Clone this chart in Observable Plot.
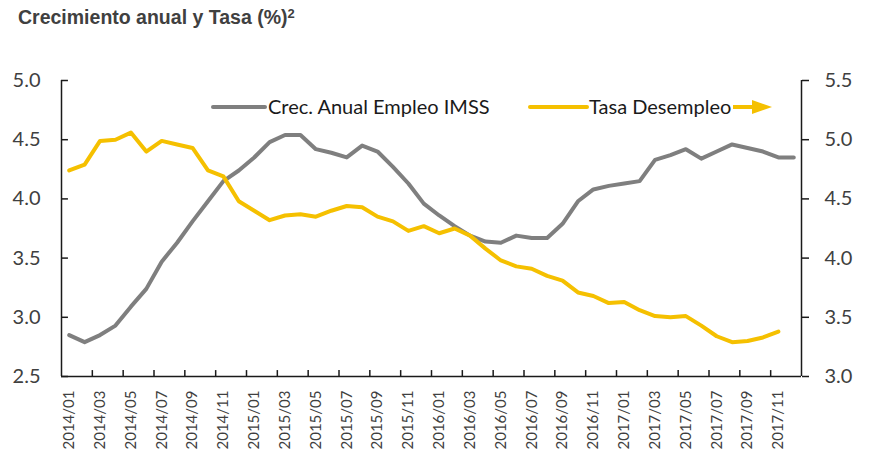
<!DOCTYPE html>
<html>
<head>
<meta charset="utf-8">
<script src="https://cdn.jsdelivr.net/npm/d3@7"></script>
<script src="https://cdn.jsdelivr.net/npm/@observablehq/plot@0.6"></script>
<style>
  body { margin: 0; background: #fff; }
  #wrap { position: relative; width: 871px; height: 451px; overflow: hidden; }
  #title { height: 40px; box-sizing: border-box; padding: 6px 0 0 18px; line-height: 20px;
           font: bold 19.5px "Liberation Sans", Arial, sans-serif; color: #404040; }
  #title sup { font-size: 13px; vertical-align: 6px; line-height: 0; }
  #legend { position: absolute; left: 0; top: 0; pointer-events: none; }
</style>
</head>
<body>
<div id="wrap">
  <div id="title">Crecimiento anual y Tasa (%)<sup>2</sup></div>
  <div id="chart"></div>
  <svg id="legend" width="871" height="451"></svg>
</div>
<script>
const months = [
  "2014/01","2014/02","2014/03","2014/04","2014/05","2014/06","2014/07","2014/08","2014/09","2014/10","2014/11","2014/12",
  "2015/01","2015/02","2015/03","2015/04","2015/05","2015/06","2015/07","2015/08","2015/09","2015/10","2015/11","2015/12",
  "2016/01","2016/02","2016/03","2016/04","2016/05","2016/06","2016/07","2016/08","2016/09","2016/10","2016/11","2016/12",
  "2017/01","2017/02","2017/03","2017/04","2017/05","2017/06","2017/07","2017/08","2017/09","2017/10","2017/11","2017/12"
];
// Crec. Anual Empleo IMSS (left axis)
const empleoIMSS = [
  2.85, 2.79, 2.85, 2.93, 3.09, 3.24, 3.47, 3.63, 3.81, 3.98, 4.15, 4.24,
  4.35, 4.48, 4.54, 4.54, 4.42, 4.39, 4.35, 4.45, 4.40, 4.27, 4.13, 3.96,
  3.86, 3.77, 3.69, 3.64, 3.63, 3.69, 3.67, 3.67, 3.79, 3.98, 4.08, 4.11,
  4.13, 4.15, 4.33, 4.37, 4.42, 4.34, 4.40, 4.46, 4.43, 4.40, 4.35, 4.35
];
// Tasa Desempleo (right axis)
const tasaDesempleo = [
  4.74, 4.79, 4.99, 5.00, 5.06, 4.90, 4.99, 4.96, 4.93, 4.74, 4.69, 4.48,
  4.40, 4.32, 4.36, 4.37, 4.35, 4.40, 4.44, 4.43, 4.35, 4.31, 4.23, 4.27,
  4.21, 4.25, 4.19, 4.08, 3.98, 3.93, 3.91, 3.85, 3.81, 3.71, 3.68, 3.62,
  3.63, 3.56, 3.51, 3.50, 3.51, 3.43, 3.34, 3.29, 3.30, 3.33, 3.38
];
const leftTicks = [2.5, 3.0, 3.5, 4.0, 4.5, 5.0];
const rightTicks = [3.0, 3.5, 4.0, 4.5, 5.0, 5.5];
const rightOffset = 0.5; // right axis = left axis + 0.5

const gray = "#7f7f7f", yellow = "#f5c000", axisColor = "#1a1a1a", labelColor = "#404040";

const empleoData = empleoIMSS.map((v, i) => ({x: i + 0.5, y: v}));
const tasaData = tasaDesempleo.map((v, i) => ({x: i + 0.5, y: v - rightOffset}));
const labelPos = months.map((m, i) => i).filter(i => i % 2 === 0).map(i => i + 0.5);
const boundaries = d3.range(2, months.length, 2);

const plot = Plot.plot({
  width: 871, height: 411,
  marginTop: 40, marginBottom: 75, marginLeft: 61, marginRight: 70,
  style: {fontFamily: "Lato, sans-serif", background: "transparent"},
  x: {domain: [0, months.length], axis: null},
  y: {domain: [2.5, 5.0], axis: null},
  marks: [
    // axis lines
    Plot.ruleX([0], {stroke: axisColor, strokeWidth: 1.5}),
    Plot.ruleX([months.length], {stroke: axisColor, strokeWidth: 1.5}),
    Plot.ruleY([2.5], {stroke: axisColor, strokeWidth: 1.5}),
    // left ticks (inward)
    Plot.ruleY(leftTicks, {x1: 0, x2: 0.45, stroke: axisColor, strokeWidth: 1.5}),
    Plot.axisY({anchor: "left", ticks: leftTicks, tickSize: 0, tickPadding: 21,
      tickFormat: d => d.toFixed(1), fontSize: 20, color: labelColor, label: null}),
    // right axis
    Plot.axisY({anchor: "right", ticks: rightTicks.map(t => t - rightOffset), tickSize: 7, tickPadding: 16,
      tickFormat: d => (d + rightOffset).toFixed(1), fontSize: 20, color: labelColor,
      stroke: axisColor, strokeWidth: 1.5, label: null}),
    // bottom ticks (inward) at category boundaries
    Plot.ruleX(boundaries, {y1: 2.5, y2: 2.55, stroke: axisColor, strokeWidth: 1.5}),
    Plot.axisX({ticks: labelPos, tickSize: 0, tickPadding: 14, tickRotate: -90,
      tickFormat: d => months[Math.round(d - 0.5)], fontSize: 15, color: labelColor, label: null}),
    // series
    Plot.line(empleoData, {x: "x", y: "y", stroke: gray, strokeWidth: 4, strokeLinejoin: "round", strokeLinecap: "round"}),
    Plot.line(tasaData, {x: "x", y: "y", stroke: yellow, strokeWidth: 4, strokeLinejoin: "round", strokeLinecap: "round"})
  ]
});
document.getElementById("chart").appendChild(plot);

// legend
const lg = d3.select("#legend");
const ly = 107;
lg.append("line").attr("x1", 213).attr("x2", 265).attr("y1", ly).attr("y2", ly)
  .attr("stroke", gray).attr("stroke-width", 4).attr("stroke-linecap", "round");
lg.append("text").attr("x", 268).attr("y", ly + 7).text("Crec. Anual Empleo IMSS")
  .attr("font-family", "Lato, sans-serif").attr("font-size", 20).attr("fill", "#1a1a1a");
lg.append("line").attr("x1", 530).attr("x2", 587).attr("y1", ly).attr("y2", ly)
  .attr("stroke", yellow).attr("stroke-width", 4).attr("stroke-linecap", "round");
lg.append("text").attr("x", 589).attr("y", ly + 7).text("Tasa Desempleo")
  .attr("font-family", "Lato, sans-serif").attr("font-size", 20).attr("fill", "#1a1a1a");
lg.append("line").attr("x1", 733).attr("x2", 756).attr("y1", ly).attr("y2", ly)
  .attr("stroke", yellow).attr("stroke-width", 4);
lg.append("polygon").attr("points", `752,${ly-7} 772,${ly} 752,${ly+7}`).attr("fill", yellow);
</script>
</body>
</html>
